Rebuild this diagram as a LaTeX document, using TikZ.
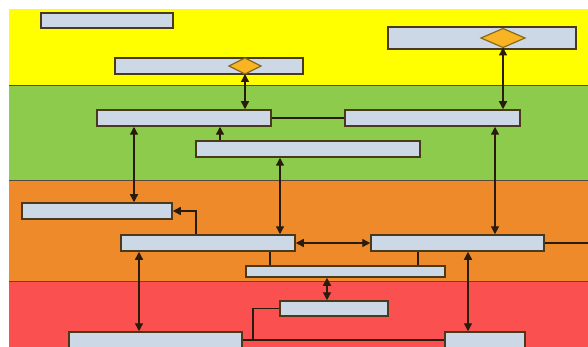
\documentclass[tikz,border=0pt]{standalone}
\usetikzlibrary{arrows.meta}
\definecolor{bandY}{HTML}{FFFF00}
\definecolor{bandG}{HTML}{8DCB4C}
\definecolor{bandO}{HTML}{EE8A2A}
\definecolor{bandR}{HTML}{FA5050}
\definecolor{boxfill}{HTML}{CCD8E6}
\definecolor{boxline}{HTML}{4A3A1C}
\definecolor{dmfill}{HTML}{F8B422}
\definecolor{dmline}{HTML}{8A6A1A}
\definecolor{conn}{HTML}{2A1C0C}
\tikzset{
  bar/.style={draw=boxline, line width=1.5pt, fill=boxfill, inner sep=0pt, rectangle},
  dmd/.style={draw=dmline, line width=1.2pt, fill=dmfill},
  link/.style={draw=conn, line width=1.4pt},
  biarrow/.style={link, {Triangle[length=8pt,width=8pt]}-{Triangle[length=8pt,width=8pt]}},
  uniarrow/.style={link, -{Triangle[length=8pt,width=8pt]}},
  sepline/.style={draw=conn!80, line width=0.8pt}
}
\begin{document}
\begin{tikzpicture}[x=1pt,y=-1pt]
\useasboundingbox (0,0) rectangle (588,347);
\fill[white] (0,0) rectangle (588,347);
\clip (0,0) rectangle (588,347);
% bands
\fill[bandY] (9,9) rectangle (588,85);
\fill[bandG] (9,85) rectangle (588,180);
\fill[bandO] (9,180) rectangle (588,281);
\fill[bandR] (9,281) rectangle (588,347);
\draw[sepline] (9,85) -- (588,85);
\draw[sepline] (9,180) -- (588,180);
\draw[sepline] (9,281) -- (588,281);
% boxes
\node[bar, minimum width=132pt, minimum height=15pt] (A) at (107,20.5) {};
\node[bar, minimum width=188pt, minimum height=16pt] (B) at (209,66) {};
\node[bar, minimum width=188pt, minimum height=22pt] (C) at (482,38) {};
\node[bar, minimum width=175pt, minimum height=16pt] (D) at (432.5,118) {};
\node[bar, minimum width=174pt, minimum height=16pt] (E) at (184,118) {};
\node[bar, minimum width=224pt, minimum height=16pt] (F) at (308,149) {};
\node[bar, minimum width=150pt, minimum height=16pt] (G) at (97,211) {};
\node[bar, minimum width=174pt, minimum height=16pt] (H) at (208,243) {};
\node[bar, minimum width=173pt, minimum height=16pt] (I) at (457.5,243) {};
\node[bar, minimum width=199pt, minimum height=11pt] (J) at (345.5,271.5) {};
\node[bar, minimum width=108pt, minimum height=15pt] (K) at (334,308.5) {};
\node[bar, minimum width=173pt, minimum height=20pt] (L) at (155.5,342) {};
\node[bar, minimum width=80pt, minimum height=20pt] (M) at (485,342) {};
% diamonds
\draw[dmd] (229,66) -- (245,58) -- (261,66) -- (245,74) -- cycle;
\draw[dmd] (481,38) -- (503,28.5) -- (525,38) -- (503,47.5) -- cycle;
\coordinate (BDs) at (245,74);
\coordinate (CDs) at (503,47.5);
\coordinate (Rend) at (588,243);
\coordinate (Kc) at (253,308.5);
% connectors
\draw[biarrow] (BDs) -- (BDs |- E.north);
\draw[biarrow] (CDs) -- (CDs |- D.north);
\draw[link] (E.east) -- (D.west);
\draw[uniarrow] (F.north -| 220,0) -- (E.south -| 220,0);
\draw[biarrow] (E.south -| 134,0) -- (G.north -| 134,0);
\draw[biarrow] (F.south -| 280,0) -- (H.north -| 280,0);
\draw[biarrow] (D.south -| 495,0) -- (I.north -| 495,0);
\draw[uniarrow] (H.north -| 196,0) |- (G.east);
\draw[biarrow] (H.east) -- (I.west);
\draw[link] (I.east) -- (Rend);
\draw[link] (H.south -| 270,0) -- (J.north -| 270,0);
\draw[link] (I.south -| 418,0) -- (J.north -| 418,0);
\draw[biarrow] (J.south -| 327,0) -- (K.north -| 327,0);
\draw[biarrow] (H.south -| 139,0) -- (L.north -| 139,0);
\draw[biarrow] (I.south -| 468,0) -- (M.north -| 468,0);
\draw[link] (K.west) -- (Kc) -- (Kc |- 0,340);
\draw[link] (L.east |- 0,340) -- (M.west |- 0,340);
\end{tikzpicture}
\end{document}
